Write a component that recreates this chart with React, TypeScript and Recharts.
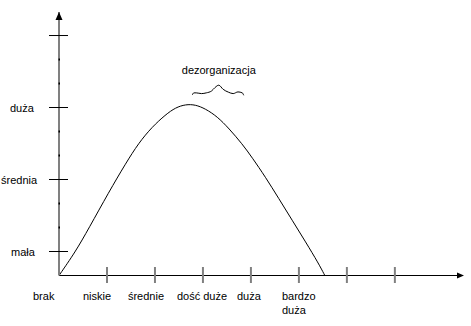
import { LineChart, Line, XAxis, YAxis, ReferenceDot } from 'recharts'

// curve (x: one unit per x tick, y: one unit per minor y tick)
const CURVE_X = [0, 0.34, 0.62, 1.04, 1.39, 1.66, 1.94, 2.22, 2.43, 2.64, 2.84, 3.05, 3.3, 3.54, 3.82, 4.03, 4.3, 4.58, 4.86, 5.14, 5.41, 5.54]
const CURVE_Y = [0, 0.98, 1.96, 3.48, 4.67, 5.52, 6.19, 6.7, 7.0, 7.13, 7.12, 6.95, 6.62, 6.13, 5.48, 4.9, 4.11, 3.21, 2.3, 1.4, 0.5, 0]

// the little brace under the annotation
const BRACE_X = [2.78, 2.81, 2.86, 2.97, 3.07, 3.18, 3.25, 3.33, 3.42, 3.53, 3.63, 3.73, 3.82, 3.85]
const BRACE_Y = [7.53, 7.61, 7.61, 7.58, 7.61, 7.69, 7.83, 7.93, 7.76, 7.64, 7.58, 7.65, 7.61, 7.51]

const X_TICKS = [0, 1, 2, 3, 4, 5, 6, 7]
const X_LABELS = ['brak', 'niskie', 'średnie', 'dość duże', 'duża', 'bardzo\nduża']

const Y_TICKS = [1, 2, 3, 4, 5, 6, 7, 8, 9, 10]
const Y_MAJOR = [1, 4, 7, 10]
const Y_LABEL_VALUES = [1, 4, 7]
const Y_LABELS = ['mała', 'średnia', 'duża']

const ANNOTATION = 'dezorganizacja'
const ANNOTATION_AT = { x: 3.33, y: 8.38 }

const X_MAX = 8.42
const Y_MAX = 10.98

// label placement tweaks (start-anchored, px from the tick)
const X_LABEL_DX = [-26, -24, -27, -26, -14, -17]
const Y_LABEL_DX = [-48, -58, -49]

const FONT = '"Liberation Sans", Arial, sans-serif'
const GRAY = '#808080'

const curve = CURVE_X.map((x, i) => ({ x, y: CURVE_Y[i] }))
const brace = BRACE_X.map((x, i) => ({ x, y: BRACE_Y[i] }))

function XTick(props: any) {
  const { x, y, payload } = props
  const v = payload.value as number
  const label = X_LABELS[v]
  return (
    <g>
      {v > 0 && <line x1={x} x2={x} y1={y - 8.5} y2={y + 7.5} stroke={GRAY} strokeWidth={2} />}
      {label && (
        <text x={x + X_LABEL_DX[v]} y={y + 24} fontSize={11} fontFamily={FONT} fill="#000">
          {label.split('\n').map((line, i) => (
            <tspan key={i} x={x + X_LABEL_DX[v]} dy={i === 0 ? 0 : 14}>{line}</tspan>
          ))}
        </text>
      )}
    </g>
  )
}

function YTick(props: any) {
  const { x, y, payload } = props
  const v = payload.value as number
  const li = Y_LABEL_VALUES.indexOf(v)
  if (!Y_MAJOR.includes(v)) {
    return <rect x={x - 0.5} y={y - 1} width={1.5} height={2} fill="#000" />
  }
  return (
    <g>
      <line x1={x - 10} x2={x + 9} y1={y} y2={y} stroke="#000" strokeWidth={1} />
      {li >= 0 && (
        <text x={x + Y_LABEL_DX[li]} y={y + 4} fontSize={11} fontFamily={FONT} fill="#000">
          {Y_LABELS[li]}
        </text>
      )}
    </g>
  )
}

const UpArrow = (p: any) => (
  <polygon points={`${p.cx},${p.cy} ${p.cx - 3.5},${p.cy + 8} ${p.cx + 3.5},${p.cy + 8}`} fill="#000" />
)
const RightArrow = (p: any) => (
  <polygon points={`${p.cx + 1},${p.cy} ${p.cx - 6},${p.cy - 3} ${p.cx - 6},${p.cy + 3}`} fill="#000" />
)
const AnnotationText = (p: any) => (
  <text x={p.cx} y={p.cy} textAnchor="middle" fontSize={11} fontFamily={FONT} fill="#000">
    {ANNOTATION}
  </text>
)

export default function App() {
  return (
    <div style={{ position: 'absolute', left: 0, top: 0, background: '#fff' }}>
      <LineChart width={471} height={326} data={curve} margin={{ top: 12, right: 8, bottom: 0, left: 0 }}>
        <XAxis
          type="number"
          dataKey="x"
          domain={[0, X_MAX]}
          ticks={X_TICKS}
          interval={0}
          height={50.5}
          tickSize={0}
          tickMargin={0}
          tickLine={false}
          axisLine={{ stroke: '#000', strokeWidth: 1 }}
          tick={XTick}
          allowDataOverflow
        />
        <YAxis
          type="number"
          domain={[0, Y_MAX]}
          ticks={Y_TICKS}
          interval={0}
          width={59}
          tickSize={0}
          tickMargin={0}
          tickLine={false}
          axisLine={{ stroke: GRAY, strokeWidth: 2 }}
          tick={YTick}
          allowDataOverflow
        />
        <Line type="basis" dataKey="y" stroke="#000" strokeWidth={1} dot={false} isAnimationActive={false} />
        <Line data={brace} type="monotone" dataKey="y" stroke="#000" strokeWidth={1} dot={false} isAnimationActive={false} />
        <ReferenceDot x={0} y={Y_MAX} r={0} ifOverflow="visible" shape={UpArrow} />
        <ReferenceDot x={X_MAX} y={0} r={0} ifOverflow="visible" shape={RightArrow} />
        <ReferenceDot x={ANNOTATION_AT.x} y={ANNOTATION_AT.y} r={0} ifOverflow="visible" shape={AnnotationText} />
      </LineChart>
    </div>
  )
}
